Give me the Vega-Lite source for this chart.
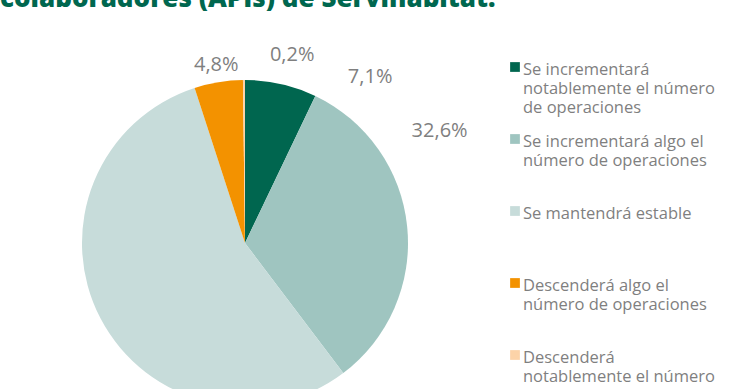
{
  "$schema": "https://vega.github.io/schema/vega-lite/v6.json",
  "background": "white",
  "padding": {"left": 0, "top": -14, "right": 0, "bottom": 0},
  "title": {
    "text": "colaboradores (APIs) de Servihabitat.",
    "anchor": "start",
    "font": "Open Sans",
    "fontSize": 26,
    "fontWeight": 800,
    "color": "#00674f",
    "offset": 0
  },
  "datasets": {
    "respuestas": [
      {"categoria": "Se incrementará notablemente el número de operaciones", "texto": "Se incrementará\nnotablemente el número\nde operaciones", "valor": 0.071, "orden": 1},
      {"categoria": "Se incrementará algo el número de operaciones", "texto": "Se incrementará algo el\nnúmero de operaciones", "valor": 0.326, "orden": 2},
      {"categoria": "Se mantendrá estable", "texto": "Se mantendrá estable", "valor": 0.553, "orden": 3},
      {"categoria": "Descenderá algo el número de operaciones", "texto": "Descenderá algo el\nnúmero de operaciones", "valor": 0.048, "orden": 4},
      {"categoria": "Descenderá notablemente el número de operaciones", "texto": "Descenderá\nnotablemente el número\nde operaciones", "valor": 0.002, "orden": 5}
    ]
  },
  "spacing": 20,
  "hconcat": [
    {
      "width": 490,
      "height": 462,
      "data": {"name": "respuestas"},
      "encoding": {
        "theta": {"field": "valor", "type": "quantitative", "stack": true},
        "order": {"field": "orden", "type": "quantitative"},
        "color": {
          "field": "categoria",
          "type": "nominal",
          "legend": null,
          "scale": {
            "domain": [
              "Se incrementará notablemente el número de operaciones",
              "Se incrementará algo el número de operaciones",
              "Se mantendrá estable",
              "Descenderá algo el número de operaciones",
              "Descenderá notablemente el número de operaciones"
            ],
            "range": ["#00664f", "#9fc5c0", "#c7dcda", "#f39200", "#fcd3a8"]
          }
        }
      },
      "layer": [
        {"mark": {"type": "arc", "outerRadius": 163}},
        {
          "transform": [{"filter": "datum.orden == 1"}],
          "mark": {"type": "text", "radius": 195, "dx": 82, "dy": 24, "font": "Open Sans", "fontSize": 20, "align": "center", "baseline": "middle"},
          "encoding": {"text": {"field": "valor", "type": "quantitative", "format": ".1%"}, "color": {"value": "#7f7f7f"}}
        },
        {
          "transform": [{"filter": "datum.orden == 2"}],
          "mark": {"type": "text", "radius": 195, "dx": 28, "dy": -11, "font": "Open Sans", "fontSize": 20, "align": "center", "baseline": "middle"},
          "encoding": {"text": {"field": "valor", "type": "quantitative", "format": ".1%"}, "color": {"value": "#7f7f7f"}}
        },
        {
          "transform": [{"filter": "datum.orden == 3"}],
          "mark": {"type": "text", "radius": 195, "dx": -337, "dy": 165, "font": "Open Sans", "fontSize": 20, "align": "center", "baseline": "middle"},
          "encoding": {"text": {"field": "valor", "type": "quantitative", "format": ".1%"}, "color": {"value": "#7f7f7f"}}
        },
        {
          "transform": [{"filter": "datum.orden == 4"}],
          "mark": {"type": "text", "radius": 195, "dx": -58, "dy": 15, "font": "Open Sans", "fontSize": 20, "align": "center", "baseline": "middle"},
          "encoding": {"text": {"field": "valor", "type": "quantitative", "format": ".1%"}, "color": {"value": "#7f7f7f"}}
        },
        {
          "transform": [{"filter": "datum.orden == 5"}],
          "mark": {"type": "text", "radius": 195, "dx": 46, "dy": 7, "font": "Open Sans", "fontSize": 20, "align": "center", "baseline": "middle"},
          "encoding": {"text": {"field": "valor", "type": "quantitative", "format": ".1%"}, "color": {"value": "#7f7f7f"}}
        }
      ]
    },
    {
      "width": 10,
      "height": 398,
      "data": {"name": "respuestas"},
      "encoding": {
        "y": {
          "field": "categoria",
          "type": "nominal",
          "sort": {"field": "orden"},
          "scale": {"type": "point", "padding": 0.764},
          "axis": null
        }
      },
      "layer": [
        {
          "mark": {"type": "point", "shape": "square", "filled": true, "size": 95, "opacity": 1},
          "encoding": {
            "color": {
              "field": "categoria",
              "type": "nominal",
              "legend": null,
              "scale": {
                "domain": [
                  "Se incrementará notablemente el número de operaciones",
                  "Se incrementará algo el número de operaciones",
                  "Se mantendrá estable",
                  "Descenderá algo el número de operaciones",
                  "Descenderá notablemente el número de operaciones"
                ],
                "range": ["#00664f", "#9fc5c0", "#c7dcda", "#f39200", "#fcd3a8"]
              }
            }
          }
        },
        {
          "mark": {"type": "text", "align": "left", "baseline": "top", "dx": 8, "dy": -5, "lineBreak": "\n", "lineHeight": 19, "font": "Open Sans", "fontSize": 16.5, "color": "#7f7f7f"},
          "encoding": {"text": {"field": "texto", "type": "nominal"}}
        }
      ]
    }
  ],
  "config": {
    "view": {"stroke": null},
    "locale": {"number": {"decimal": ",", "thousands": ".", "grouping": [3], "currency": ["", " €"]}}
  }
}
